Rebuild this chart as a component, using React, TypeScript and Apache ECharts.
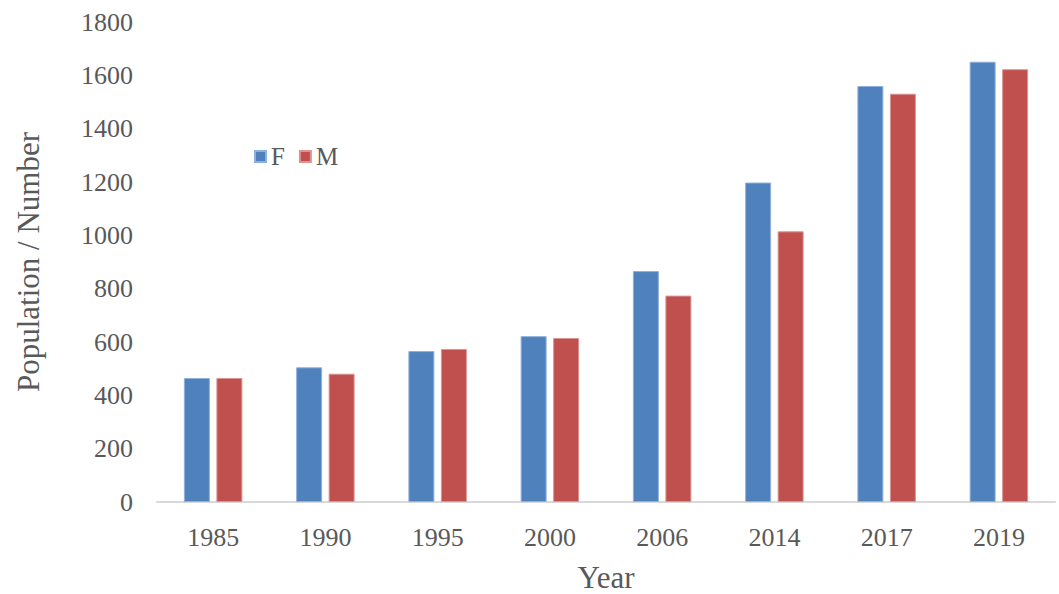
import React, { useEffect, useRef } from "react";
import * as echarts from "echarts";

const categories = ["1985", "1990", "1995", "2000", "2006", "2014", "2017", "2019"];
const femaleValues = [465, 505, 566, 622, 866, 1198, 1560, 1651];
const maleValues = [465, 481, 574, 615, 774, 1015, 1531, 1623];
const yTicks = [0, 200, 400, 600, 800, 1000, 1200, 1400, 1600, 1800];

const FONT = "'Liberation Serif', 'Times New Roman', serif";

export default function App() {
  const ref = useRef<HTMLDivElement>(null);
  useEffect(() => {
    if (!ref.current) return;
    const chart = echarts.init(ref.current, null, { renderer: "svg" });
    chart.setOption({
      animation: false,
      backgroundColor: "#ffffff",
      textStyle: { fontFamily: FONT },
      grid: {
        left: 157,
        right: 4,
        top: 22,
        bottom: 92,
        containLabel: false,
        outerBoundsMode: "none",
      },
      legend: {
        left: 249,
        top: 139,
        itemWidth: 11,
        itemHeight: 11,
        itemGap: 14,
        icon: "rect",
        textStyle: { fontFamily: FONT, fontSize: 25, color: "#595959" },
        data: ["F", "M"],
      },
      xAxis: {
        type: "category",
        data: categories,
        name: "Year",
        nameLocation: "middle",
        nameGap: 60,
        nameTextStyle: { fontFamily: FONT, fontSize: 31, color: "#595959" },
        axisLine: { show: true, lineStyle: { color: "#d9d9d9", width: 2 } },
        axisTick: { show: false },
        axisLabel: { fontFamily: FONT, fontSize: 26, color: "#595959", margin: 22 },
      },
      yAxis: {
        type: "value",
        min: 0,
        max: 1800,
        interval: 200,
        name: "Population / Number",
        nameLocation: "middle",
        nameGap: 113,
        nameTextStyle: { fontFamily: FONT, fontSize: 31, color: "#595959" },
        axisLine: { show: false },
        axisTick: { show: false },
        splitLine: { show: false },
        axisLabel: {
          fontFamily: FONT,
          fontSize: 26,
          color: "#595959",
          margin: 24,
          formatter: (v: number) => (yTicks.includes(v) ? String(v) : ""),
        },
      },
      series: [
        {
          name: "F",
          type: "bar",
          data: femaleValues,
          barWidth: 26,
          barGap: "25%",
          itemStyle: { color: "#4f81bd", borderColor: "#8eb0dc", borderWidth: 1 },
        },
        {
          name: "M",
          type: "bar",
          data: maleValues,
          barWidth: 26,
          itemStyle: { color: "#c0504d", borderColor: "#dc9492", borderWidth: 1 },
        },
      ],
    });
    return () => chart.dispose();
  }, []);
  return (
    <div
      ref={ref}
      style={{ position: "fixed", left: 0, top: 0, width: 1059, height: 594 }}
    />
  );
}
